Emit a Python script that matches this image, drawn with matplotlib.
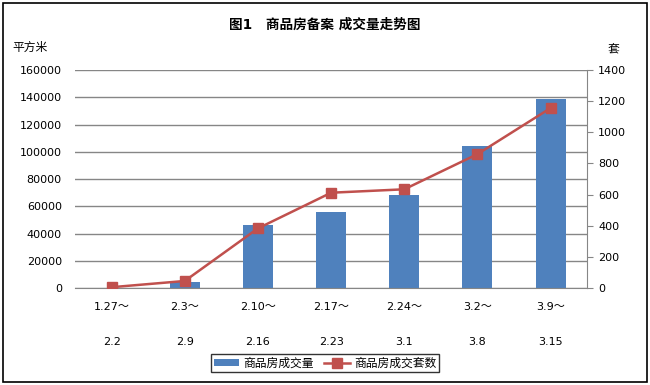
import matplotlib
matplotlib.use("Agg")
import matplotlib.pyplot as plt
from matplotlib.patches import Rectangle

plt.rcParams['font.family'] = ['DejaVu Sans', 'Noto Sans CJK SC']

weeks_start = ["1.27～", "2.3～", "2.10～", "2.17～", "2.24～", "3.2～", "3.9～"]
weeks_end = ["2.2", "2.9", "2.16", "2.23", "3.1", "3.8", "3.15"]
area = [0, 4400, 46500, 56000, 68500, 104000, 139000]   # 平方米
units = [5, 45, 383, 612, 634, 860, 1156]              # 套

bar_color = "#4F81BD"
line_color = "#C0504D"
grid_color = "#868686"

fig = plt.figure(figsize=(6.5, 3.85), dpi=100)
fig.patches.append(Rectangle((0.005, 0.008), 0.99, 0.984, transform=fig.transFigure,
                             fill=False, edgecolor="black", linewidth=1.2))

ax = fig.add_axes([0.1154, 0.252, 0.788, 0.566])
x = list(range(len(area)))
ax.bar(x, area, width=0.41, color=bar_color, label="商品房成交量", zorder=2)
ax.set_ylim(0, 160000)
ax.set_yticks(range(0, 160001, 20000))
ax.set_xlim(-0.5, len(area) - 0.5)
ax.yaxis.grid(True, color=grid_color, linewidth=1)
ax.set_axisbelow(True)
for s in ["top", "left", "right"]:
    ax.spines[s].set_visible(False)
ax.spines["bottom"].set_color(grid_color)
ax.tick_params(axis="y", length=0, labelsize=8, pad=9.5)
ax.tick_params(axis="x", length=0, labelsize=8, pad=10)
ax.set_xticks(x)
ax.set_xticklabels([a + "\n\n" + b for a, b in zip(weeks_start, weeks_end)], linespacing=1.94)

ax2 = ax.twinx()
ax2.plot(x, units, color=line_color, linewidth=1.8, marker="s", markersize=7,
         label="商品房成交套数", zorder=3)
ax2.set_ylim(0, 1400)
ax2.set_yticks(range(0, 1401, 200))
for s in ["top", "left", "bottom"]:
    ax2.spines[s].set_visible(False)
ax2.spines["right"].set_color(grid_color)
ax2.tick_params(axis="y", length=4, color=grid_color, labelsize=8, pad=4)

fig.text(0.5, 0.935, "图1　商品房备案 成交量走势图", ha="center", va="center",
         fontsize=9.8, fontweight="bold")
fig.text(0.046, 0.878, "平方米", ha="center", va="center", fontsize=8.5)
fig.text(0.943, 0.870, "套", ha="center", va="center", fontsize=8.5)

h1, l1 = ax.get_legend_handles_labels()
h2, l2 = ax2.get_legend_handles_labels()
leg = fig.legend(h1 + h2, l1 + l2, loc="center", bbox_to_anchor=(0.5, 0.057), ncol=2,
                 fontsize=8.5, frameon=True, fancybox=False, borderpad=0.2,
                 handlelength=2.2, handleheight=0.5, columnspacing=0.85,
                 handletextpad=0.35, borderaxespad=0.2)
leg.get_frame().set_edgecolor("black")
leg.get_frame().set_linewidth(1)

fig.savefig("out.png", dpi=100)
